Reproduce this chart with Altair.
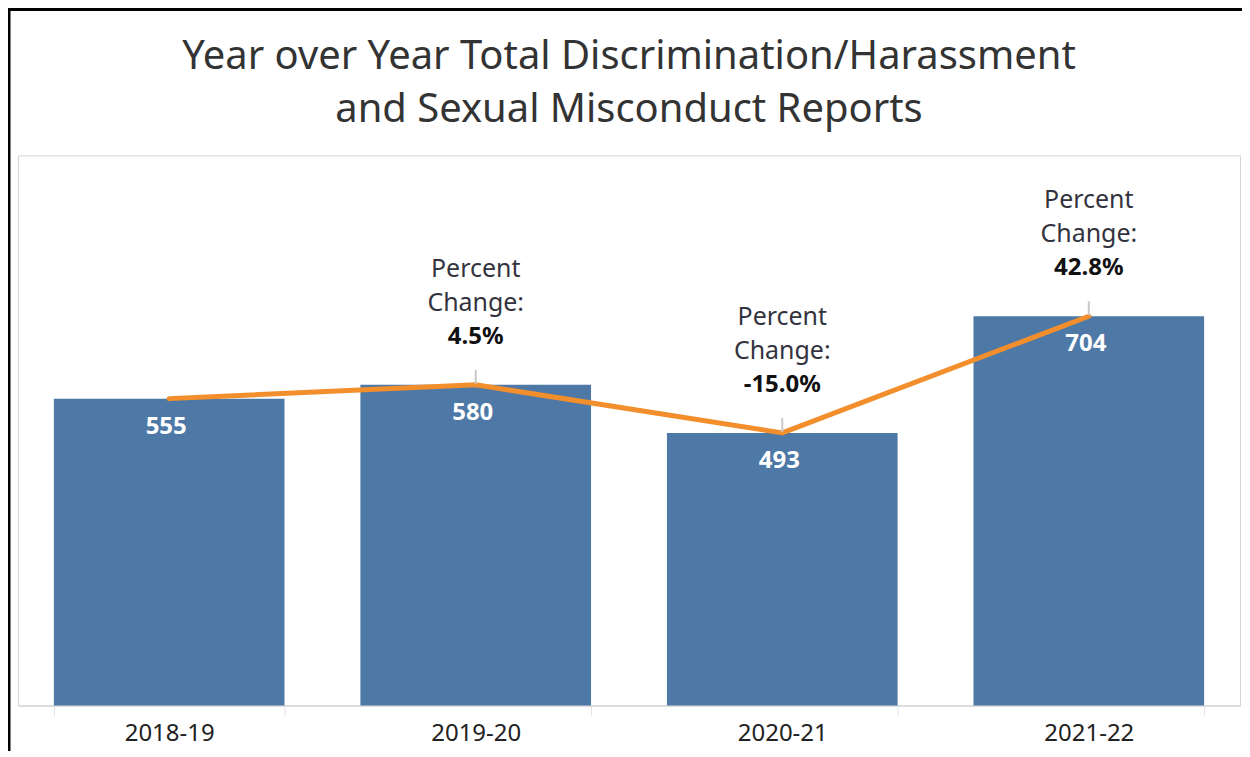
import altair as alt
import pandas as pd

years = ["2018-19", "2019-20", "2020-21", "2021-22"]
reports = [555, 580, 493, 704]
pct_change = ["", "4.5%", "-15.0%", "42.8%"]

df = pd.DataFrame({"year": years, "reports": reports, "pct": pct_change})

FONT = "Noto Sans"

x = alt.X(
    "year:N",
    sort=years,
    scale=alt.Scale(paddingInner=0.2476, paddingOuter=0.117),
    axis=alt.Axis(
        title=None, labelAngle=0, labelFontSize=24, labelColor="#222222",
        labelFont=FONT, domainColor="#d0d0d0", ticks=True, tickBand="extent",
        tickSize=10, tickColor="#e4e4e4", labelPadding=6, grid=False,
    ),
)
y = alt.Y("reports:Q", scale=alt.Scale(domain=[0, 995], nice=False), axis=None)

base = alt.Chart(df).encode(x=x, y=y)

bars = base.mark_bar(color="#4e79a7")
line = base.mark_line(color="#f28e2b", strokeWidth=5, strokeCap="round", strokeJoin="round")
values = base.mark_text(color="white", fontWeight="bold", fontSize=24, font=FONT,
                        baseline="middle", dy=28, dx=-3).encode(text="reports:Q")

ann = base.transform_filter(alt.datum.pct != "")
tick = ann.mark_rule(color="#c8c8c8", strokeWidth=2, yOffset=-15, y2Offset=-1).encode(
    y2=alt.Y2("reports:Q"))
t1 = ann.mark_text(color="#333340", fontSize=25, font=FONT, baseline="middle", dy=-116).encode(
    text=alt.value("Percent"))
t2 = ann.mark_text(color="#333340", fontSize=25, font=FONT, baseline="middle", dy=-82).encode(
    text=alt.value("Change:"))
t3 = ann.mark_text(color="#111111", fontSize=24, font=FONT, fontWeight="bold",
                   baseline="middle", dy=-48).encode(text="pct:N")

deco = alt.Chart(alt.Data(values=[{}]))
left_border = deco.mark_rule(color="black", strokeWidth=3).encode(
    x=alt.value(-9), y=alt.value(-146), y2=alt.value(700))
top_border = deco.mark_rule(color="black", strokeWidth=3).encode(
    x=alt.value(-10), x2=alt.value(1240), y=alt.value(-146))

chart = alt.layer(bars, line, values, tick, t1, t2, t3, left_border, top_border).properties(
    width=1224,
    height=551,
    title=alt.TitleParams(
        ["Year over Year Total Discrimination/Harassment", "and Sexual Misconduct Reports"],
        fontSize=40, font=FONT, fontWeight="normal", color="#333333",
        lineHeight=53, offset=0, dy=122, anchor="middle",
    ),
    autosize=alt.AutoSizeParams(type="none"),
    padding={"left": 10, "top": 147, "right": 2, "bottom": 45},
).configure_view(stroke="#d6d6d6", strokeWidth=1)

chart.save("out.html", embed_options={"renderer": "svg", "actions": False})
